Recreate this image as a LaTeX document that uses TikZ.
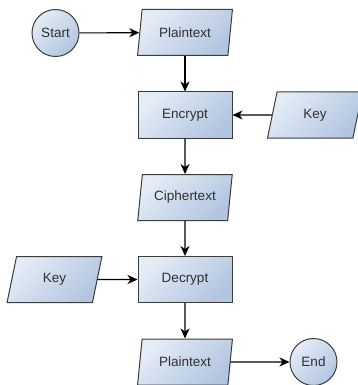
\documentclass[tikz,border=0pt]{standalone}
\usepackage{fontspec}
\setmainfont{Liberation Sans}
\usetikzlibrary{shapes.geometric,arrows.meta}

\definecolor{fillLight}{HTML}{E4ECF6}
\definecolor{fillDark}{HTML}{B2C5E0}
\definecolor{edge}{HTML}{3C3C3C}
\definecolor{ink}{HTML}{303030}

\tikzset{
  base/.style={draw=edge, line width=1pt, text=ink,
    font=\fontsize{13.5}{15}\selectfont,
    top color=fillLight, bottom color=fillDark, shading angle=45},
  terminal/.style={base, circle, minimum size=47pt, inner sep=0pt},
  process/.style={base, rectangle, minimum width=94pt, minimum height=46pt},
  data/.style={base, trapezium, trapezium left angle=78, trapezium right angle=102,
    trapezium stretches=true, minimum width=95pt, minimum height=46pt, inner sep=2pt},
  flow/.style={line width=1.1pt, draw=black, -{Stealth[length=10pt,width=9pt,inset=3pt]}}
}

\begin{document}
\begin{tikzpicture}[x=1pt,y=-1pt]
  \useasboundingbox (0,0) rectangle (358,385);

  \node[terminal] (start)  at (55.5,33)  {Start};
  \node[data]     (plain)  at (185,32.5) {Plaintext};
  \node[process]  (enc)    at (185,115)  {Encrypt};
  \node[data]     (key1)   at (315,115)  {Key};
  \node[data]     (cipher) at (185,197.5){Ciphertext};
  \node[process]  (dec)    at (185,279.5){Decrypt};
  \node[data]     (key2)   at (54.5,279.5){Key};
  \node[data]     (plain2) at (185,362)  {Plaintext};
  \node[terminal] (end)    at (313.5,362){End};

  \draw[flow] (start) -- (plain);
  \draw[flow] (plain) -- (enc);
  \draw[flow] (key1) -- (enc);
  \draw[flow] (enc) -- (cipher);
  \draw[flow] (cipher) -- (dec);
  \draw[flow] (key2) -- (dec);
  \draw[flow] (dec) -- (plain2);
  \draw[flow] (plain2) -- (end);
\end{tikzpicture}
\end{document}
